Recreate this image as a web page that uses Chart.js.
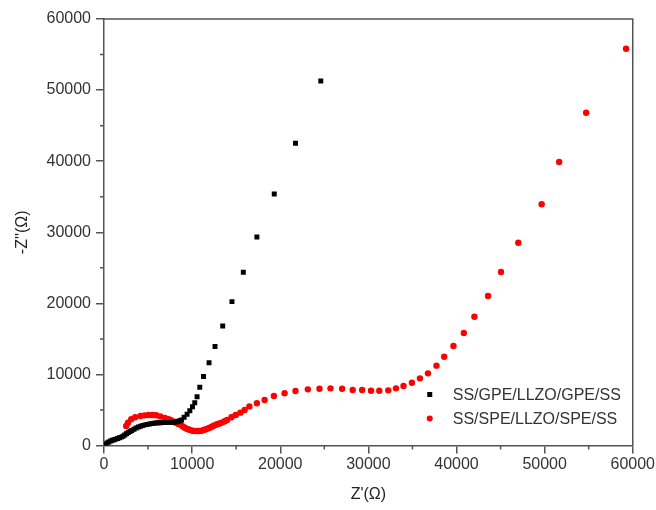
<!DOCTYPE html>
<html>
<head>
<meta charset="utf-8">
<title>Nyquist plot</title>
<script src="https://cdn.jsdelivr.net/npm/chart.js@4/dist/chart.umd.min.js"></script>
<style>
  html, body { margin: 0; padding: 0; background: #fff; }
  #wrap { width: 656px; height: 510px; }
</style>
</head>
<body>
<div id="wrap"><canvas id="nyquistChart" width="656" height="510"></canvas></div>
<script>
// Values (ohm)
const gpeLabel = "SS/GPE/LLZO/GPE/SS";
const gpeRe = [150, 350, 550, 750, 950, 1150, 1350, 1550, 1750, 1950, 2150, 2350, 2550, 2750, 2950, 3150,
  3400, 3650, 3900, 4150, 4400, 4650, 4900, 5150, 5400, 5650, 5900, 6150, 6400, 6650, 6900, 7150,
  7400, 7650, 7900, 8150, 8400, 8620, 8800, 9090, 9430, 9740, 10040, 10300, 10560, 10870, 11290,
  11920, 12600, 13470, 14520, 15810, 17350, 19320, 21730, 24600];
const gpeIm = [180, 360, 500, 620, 730, 820, 900, 990, 1080, 1180, 1300, 1470, 1660, 1830, 1980, 2120,
  2300, 2460, 2600, 2720, 2820, 2900, 2970, 3030, 3080, 3120, 3160, 3190, 3210, 3230, 3240, 3250,
  3250, 3250, 3260, 3300, 3400, 3490, 3590, 3970, 4390, 4900, 5460, 6020, 6870, 8190, 9720,
  11650, 13940, 16800, 20240, 24370, 29340, 35390, 42530, 51270];

const speLabel = "SS/SPE/LLZO/SPE/SS";
const speRe = [2520, 2720, 3090, 3540, 4150, 4600, 5060, 5500, 5920, 6400, 6900, 7250, 7550, 7850,
  8150, 8450, 8720, 8950, 9170, 9350, 9540, 9780, 10040, 10300, 10560, 10800, 11060, 11300, 11550,
  11780, 12000, 12230, 12450, 12700, 12940, 13180, 13430, 13700, 13960, 14460, 14940, 15470, 15960,
  16500, 17350, 18230, 19280, 20490, 21730, 23130, 24450, 25700, 27020, 28220, 29290, 30300, 31240,
  32260, 33130, 33990, 34940, 35850, 36760, 37730, 38600, 39650, 40830, 42030, 43580, 45050, 47010,
  49660, 51650, 54710, 59240];
const speIm = [2740, 3210, 3690, 3970, 4150, 4240, 4290, 4290, 4250, 4080, 3870, 3720, 3590, 3400,
  3210, 3040, 2880, 2680, 2500, 2380, 2280, 2170, 2080, 2040, 2040, 2050, 2080, 2170, 2280,
  2390, 2500, 2640, 2790, 2910, 3030, 3140, 3260, 3420, 3590, 3970, 4290, 4620, 4990,
  5500, 5940, 6400, 6960, 7340, 7660, 7900, 7990, 8040, 7990, 7800, 7800, 7710, 7710,
  7760, 8040, 8370, 8830, 9450, 10150, 11230, 12490, 14000, 15830, 18120, 21030, 24410, 28530,
  33930, 39880, 46820, 55820];

// Axis ticks
const axisMin = 0;
const axisMax = 60000;
const majorStep = 10000;

const toPoints = (xs, ys) => xs.map((x, i) => ({ x: x, y: ys[i] }));

const FONT = "Arial, 'Liberation Sans', sans-serif";
const AXIS_COLOR = "#555";

// top/right frame plus minor ticks between the labelled ones
const framePlugin = {
  id: "frame",
  afterDraw(chart) {
    const ctx = chart.ctx;
    const a = chart.chartArea;
    const xs = chart.scales.x;
    const ys = chart.scales.y;
    ctx.save();
    ctx.strokeStyle = AXIS_COLOR;
    ctx.lineWidth = 1.5;
    ctx.beginPath();
    ctx.moveTo(a.left, a.top);
    ctx.lineTo(a.right, a.top);
    ctx.lineTo(a.right, a.bottom);
    ctx.stroke();
    ctx.beginPath();
    for (let v = axisMin + majorStep / 2; v < axisMax; v += majorStep) {
      const px = xs.getPixelForValue(v);
      ctx.moveTo(px, a.bottom);
      ctx.lineTo(px, a.bottom + 4);
      const py = ys.getPixelForValue(v);
      ctx.moveTo(a.left, py);
      ctx.lineTo(a.left - 4, py);
    }
    ctx.stroke();
    ctx.restore();
  },
};

// legend drawn inside the plot, bottom right
const legendPlugin = {
  id: "innerLegend",
  afterDraw(chart) {
    const ctx = chart.ctx;
    const a = chart.chartArea;
    const mx = a.right - 203;
    const tx = a.right - 180;
    ctx.save();
    ctx.font = "16px " + FONT;
    ctx.textBaseline = "middle";
    chart.data.datasets.forEach((ds, i) => {
      const y = a.bottom - 51 + i * 24;
      ctx.fillStyle = ds.backgroundColor;
      if (ds.pointStyle === "rect") {
        ctx.fillRect(mx - 2.5, y - 2.5, 5, 5);
      } else {
        ctx.beginPath();
        ctx.arc(mx, y, 3, 0, Math.PI * 2);
        ctx.fill();
      }
      ctx.fillStyle = "#333";
      ctx.fillText(ds.label, tx, y + 1);
    });
    ctx.restore();
  },
};

function axisOptions(title, isX) {
  return {
    type: "linear",
    min: axisMin,
    max: axisMax,
    ticks: {
      stepSize: majorStep,
      color: "#333",
      font: { family: FONT, size: 16 },
      padding: isX ? 1 : 5,
      maxRotation: 0,
      autoSkip: false,
      callback: (value) => String(value),
    },
    grid: {
      drawOnChartArea: false,
      drawTicks: true,
      tickLength: 8,
      color: AXIS_COLOR,
      lineWidth: 1.5,
    },
    border: { color: AXIS_COLOR, width: 1.5 },
    title: {
      display: true,
      text: title,
      color: "#222",
      font: { family: FONT, size: 16 },
      padding: isX ? { top: 0, bottom: 6 } : { top: 13, bottom: 0 },
    },
    afterFit(scale) {
      if (isX) scale.height = 64.5;
      else scale.width = 104;
    },
  };
}

new Chart(document.getElementById("nyquistChart"), {
  type: "scatter",
  data: {
    datasets: [
      {
        label: gpeLabel,
        data: toPoints(gpeRe, gpeIm),
        pointStyle: "rect",
        pointRadius: 3.5,
        backgroundColor: "#000000",
        borderWidth: 0,
      },
      {
        label: speLabel,
        data: toPoints(speRe, speIm),
        pointStyle: "circle",
        pointRadius: 3.2,
        backgroundColor: "#ff0000",
        borderWidth: 0,
      },
    ],
  },
  options: {
    responsive: false,
    animation: false,
    layout: { padding: { top: 19, right: 23, left: 0, bottom: 0 } },
    scales: {
      x: axisOptions("Z'(\u03A9)", true),
      y: axisOptions("-Z''(\u03A9)", false),
    },
    plugins: {
      legend: { display: false },
      tooltip: { enabled: false },
    },
  },
  plugins: [framePlugin, legendPlugin],
});
</script>
</body>
</html>
